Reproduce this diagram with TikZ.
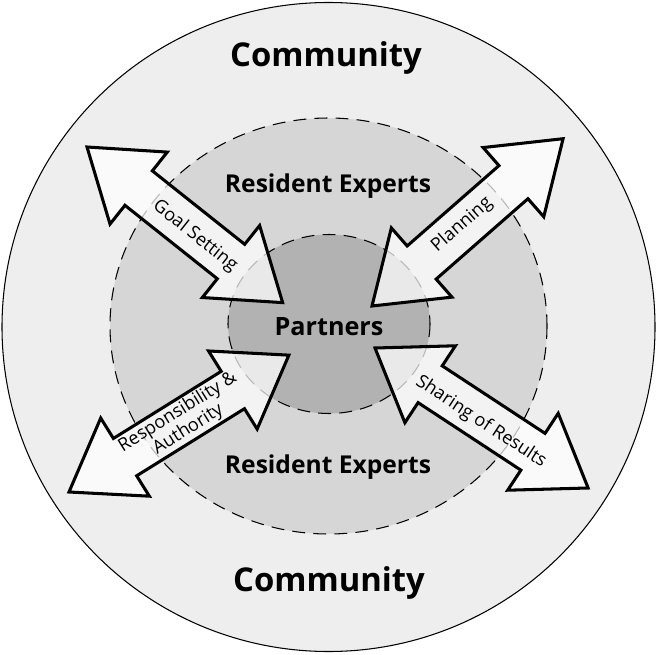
\documentclass[tikz,border=0pt]{standalone}
\usepackage{fontspec}
\setmainfont{Open Sans}
\usetikzlibrary{calc}

\tikzset{
  ring/.style={draw=black, line width=0.9pt},
  ringdash/.style={draw=black, line width=0.9pt, dash pattern=on 11pt off 7pt},
  fatarrow/.style={draw=black, line width=2.6pt, fill=white, fill opacity=0.72},
  bigtext/.style={font=\fontsize{28}{34}\selectfont\bfseries},
  midtext/.style={font=\fontsize{21}{25}\selectfont\bfseries},
  armtext/.style={font=\fontsize{15.5}{17}\selectfont, align=center, inner sep=0pt},
}

% double headed fat arrow: start tip, angle, length
\newcommand{\dblarrow}[3]{%
  \begin{scope}[shift={#1}, rotate=#2]
    \draw[fatarrow] (0,0) -- (66,46) -- (66,22) -- (#3-66,22) -- (#3-66,46) -- (#3,0)
      -- (#3-66,-46) -- (#3-66,-22) -- (66,-22) -- (66,-46) -- cycle;
  \end{scope}}

\begin{document}
\begin{tikzpicture}[x=0.03cm, y=-0.03cm]
  \useasboundingbox (0,0) rectangle (657,654);

  % rings
  \draw[ring, fill=gray!13] (328.5,327) ellipse [x radius=326.5, y radius=324.5];
  \draw[ringdash, fill=gray!32] (328.5,326) ellipse [x radius=218.5, y radius=208];
  \draw[ringdash, fill=gray!60] (329,324) ellipse [x radius=101, y radius=89.5];

  % ring names
  \node[bigtext] (commtop) at (326,58) {Community};
  \node[bigtext] (commbot) at (329,583) {Community};
  \node[midtext] (restop) at (328,186) {Resident Experts};
  \node[midtext] (resbot) at (328,467) {Resident Experts};
  \node[midtext, font=\fontsize{21.5}{25}\selectfont\bfseries] (partners) at (329,327) {Partners};

  % arrows
  \dblarrow{(87,147)}{-38.5}{250}
  \dblarrow{(372,306)}{41.2}{254}
  \dblarrow{(69,492)}{31.9}{259}
  \dblarrow{(375,348)}{-33.3}{255}

  \node[armtext, rotate=-38.5] (goal) at (195,236) {Goal Setting};
  \node[armtext, rotate=41.2] (plan) at (462,225) {Planning};
  \node[armtext, rotate=31.9] (resp) at (183,421) {Responsibility \&\\Authority};
  \node[armtext, rotate=-33.3] (share) at (481,422) {Sharing of Results};
\end{tikzpicture}
\end{document}
